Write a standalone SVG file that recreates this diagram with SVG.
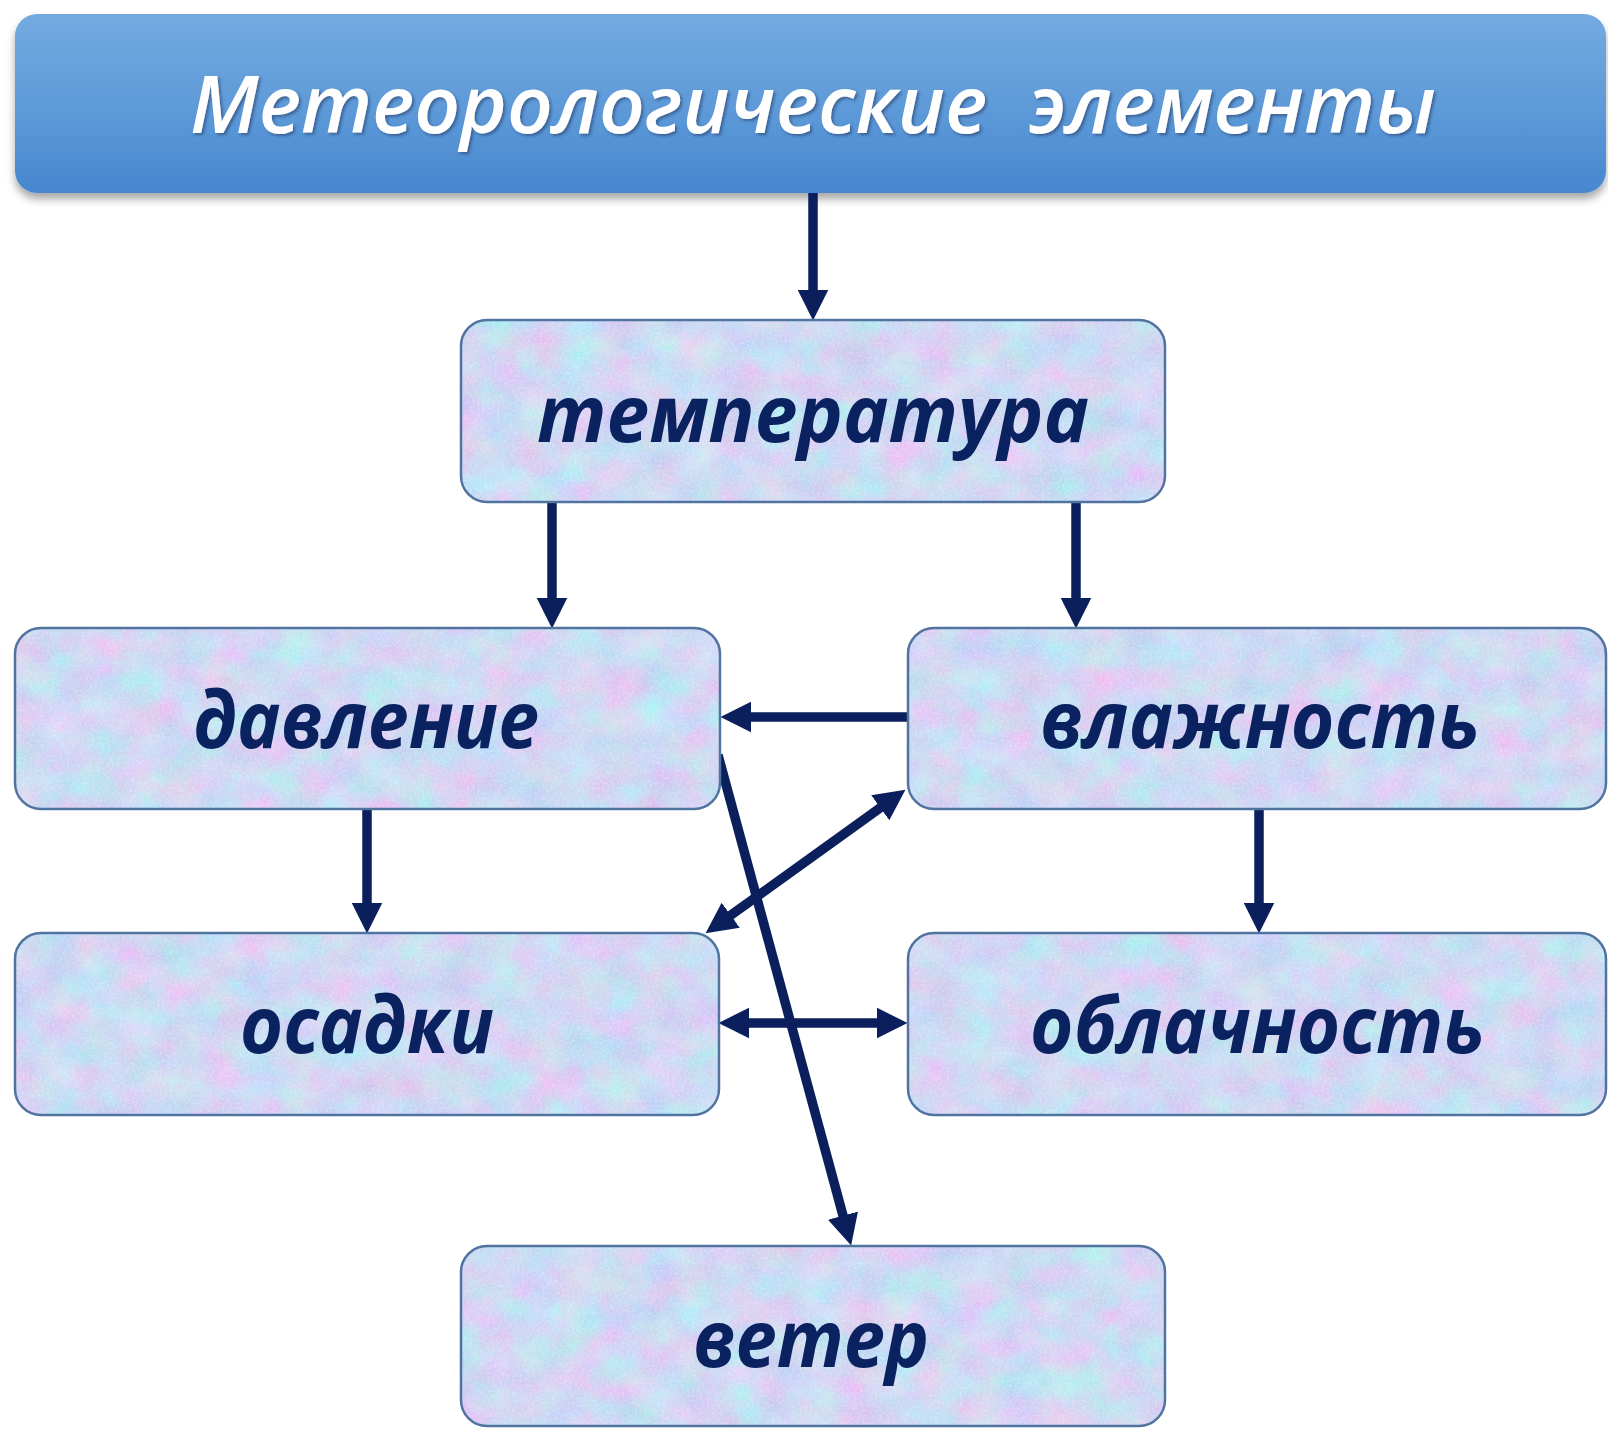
<svg xmlns="http://www.w3.org/2000/svg" width="1608" height="1440" viewBox="0 0 1608 1440">
  <defs>
    <style>
      .node-tex { filter: url(#frost); fill: #000; }
      .node-edge { fill: none; stroke: #50739f; stroke-width: 2.5; }
      .label { font-family: "Open Sans", "Noto Sans", "Liberation Sans", sans-serif; font-style: italic; font-weight: 700; font-size: 78px; fill: #0b2260; }
      .title { font-family: "Open Sans", "Noto Sans", "Liberation Sans", sans-serif; font-style: italic; font-weight: 600; font-size: 80px; fill: #ffffff; }
      .link { fill: none; stroke: #0a1f5c; stroke-width: 9.5; }
    </style>
    <linearGradient id="barFill" x1="0" y1="0" x2="0" y2="1">
      <stop offset="0" stop-color="#74aae0"/>
      <stop offset="0.5" stop-color="#5f9bd9"/>
      <stop offset="1" stop-color="#4787cf"/>
    </linearGradient>
    <filter id="barShadow" x="-5%" y="-20%" width="110%" height="150%">
      <feDropShadow dx="0" dy="6" stdDeviation="4" flood-color="#000" flood-opacity="0.35"/>
    </filter>
    <filter id="titleShadow" x="-5%" y="-30%" width="110%" height="160%">
      <feDropShadow dx="2" dy="2" stdDeviation="1.5" flood-color="#1a3560" flood-opacity="0.55"/>
    </filter>
    <!-- pastel frosted texture for the element boxes -->
    <filter id="frost" color-interpolation-filters="sRGB" x="0" y="0" width="1" height="1">
      <feTurbulence type="fractalNoise" baseFrequency="0.025 0.03" numOctaves="3" seed="7" result="big"/>
      <feColorMatrix in="big" type="matrix" result="tint" values="
        0.3 -0.12 0 0 0.71
        -0.1 0.22 0 0 0.78
        0 0 0.08 0 0.91
        0 0 0 0 1"/>
      <feTurbulence type="fractalNoise" baseFrequency="0.4" numOctaves="2" seed="3" result="fine"/>
      <feColorMatrix in="fine" type="matrix" result="speck" values="
        0 0 0 0 0.97
        0 0 0 0 0.98
        0 0 0 0 1
        0.7 0 0 0 -0.27"/>
      <feComposite in="speck" in2="tint" operator="over" result="tex"/>
      <feComposite in="tex" in2="SourceGraphic" operator="in"/>
    </filter>
    <marker id="head" viewBox="0 0 30 30" refX="14" refY="15" markerWidth="31" markerHeight="31" markerUnits="userSpaceOnUse" orient="auto-start-reverse">
      <path d="M0,0 L30,15 L0,30 Z" fill="#0a1f5c"/>
    </marker>
  </defs>

  <rect width="1608" height="1440" fill="#ffffff"/>

  <!-- title bar -->
  <g id="title">
    <rect x="15" y="14" width="1591" height="179" rx="22" fill="url(#barFill)" filter="url(#barShadow)"/>
    <text class="title" x="190" y="133" textLength="1246" lengthAdjust="spacingAndGlyphs" xml:space="preserve" filter="url(#titleShadow)">Метеорологические  элементы</text>
  </g>

  <!-- connectors -->
  <g id="connectors">
    <line class="link" x1="813" y1="193" x2="813" y2="304" marker-end="url(#head)"/>
    <line class="link" x1="552" y1="502" x2="552" y2="612" marker-end="url(#head)"/>
    <line class="link" x1="1076" y1="502" x2="1076" y2="612" marker-end="url(#head)"/>
    <line class="link" x1="908" y1="717" x2="737" y2="717" marker-end="url(#head)"/>
    <line class="link" x1="718" y1="755" x2="846.8" y2="1229.6" marker-end="url(#head)"/>
    <line class="link" x1="719" y1="923.7" x2="892" y2="799.3" marker-start="url(#head)" marker-end="url(#head)"/>
    <line class="link" x1="367" y1="809" x2="367" y2="917" marker-end="url(#head)"/>
    <line class="link" x1="1259" y1="809" x2="1259" y2="917" marker-end="url(#head)"/>
    <line class="link" x1="735" y1="1023" x2="891" y2="1023" marker-start="url(#head)" marker-end="url(#head)"/>
  </g>

  <g id="temperatura">
    <rect class="node-tex" x="461" y="320" width="704" height="182" rx="26"/>
    <rect class="node-edge" x="461" y="320" width="704" height="182" rx="26"/>
    <text class="label" x="537" y="442" textLength="552" lengthAdjust="spacingAndGlyphs">температура</text>
  </g>

  <g id="davlenie">
    <rect class="node-tex" x="15" y="628" width="705" height="181" rx="26"/>
    <rect class="node-edge" x="15" y="628" width="705" height="181" rx="26"/>
    <text class="label" x="193" y="748" textLength="346" lengthAdjust="spacingAndGlyphs">давление</text>
  </g>

  <g id="vlazhnost">
    <rect class="node-tex" x="908" y="628" width="698" height="181" rx="26"/>
    <rect class="node-edge" x="908" y="628" width="698" height="181" rx="26"/>
    <text class="label" x="1040" y="748" textLength="440" lengthAdjust="spacingAndGlyphs">влажность</text>
  </g>

  <g id="osadki">
    <rect class="node-tex" x="15" y="933" width="704" height="182" rx="26"/>
    <rect class="node-edge" x="15" y="933" width="704" height="182" rx="26"/>
    <text class="label" x="240" y="1053" textLength="254" lengthAdjust="spacingAndGlyphs">осадки</text>
  </g>

  <g id="oblachnost">
    <rect class="node-tex" x="908" y="933" width="698" height="182" rx="26"/>
    <rect class="node-edge" x="908" y="933" width="698" height="182" rx="26"/>
    <text class="label" x="1030" y="1053" textLength="455" lengthAdjust="spacingAndGlyphs">облачность</text>
  </g>

  <g id="veter">
    <rect class="node-tex" x="461" y="1246" width="704" height="180" rx="26"/>
    <rect class="node-edge" x="461" y="1246" width="704" height="180" rx="26"/>
    <text class="label" x="693" y="1367" textLength="236" lengthAdjust="spacingAndGlyphs">ветер</text>
  </g>
</svg>
